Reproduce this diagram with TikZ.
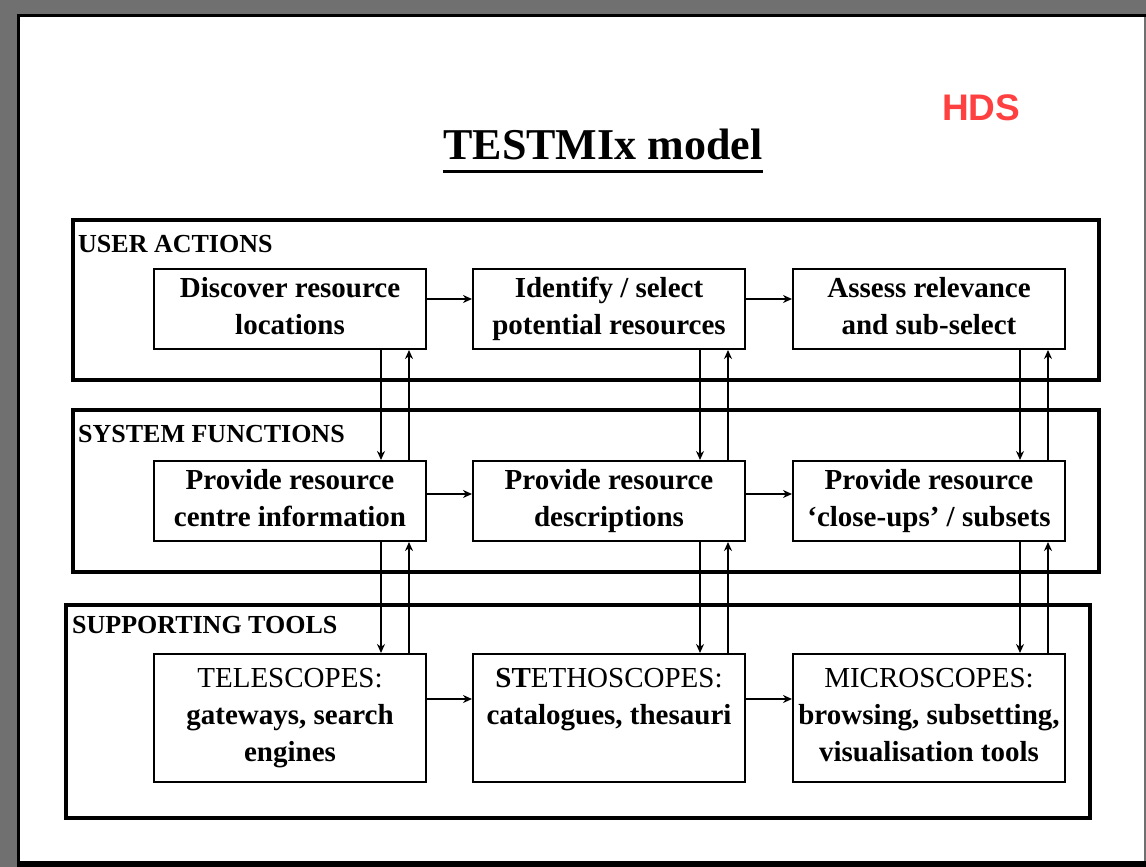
\documentclass[tikz,border=0pt]{standalone}
\usepackage{fontspec}
\setmainfont{Liberation Serif}
\newfontfamily\hdsfont{Liberation Sans}
\usepackage{tikz}
\usetikzlibrary{positioning}
\usetikzlibrary{arrows.meta}
\usepackage{xcolor}
\definecolor{framegray}{RGB}{112,112,112}
\definecolor{hdsred}{RGB}{255,64,64}

\tikzset{
  layer/.style={draw,line width=4pt,minimum width=1026pt,inner sep=0pt},
  layerlabel/.style={anchor=base west,inner sep=0pt,font=\fontsize{26}{26}\selectfont\bfseries},
  task/.style={draw,line width=2pt,minimum width=272pt,minimum height=80pt,inner sep=0pt,
    align=center,font=\fontsize{29}{37}\selectfont\bfseries,
    execute at begin node=\rule{0pt}{28pt},execute at end node=\rule[-7pt]{0pt}{7pt}},
  flow/.style={line width=2pt,-{Stealth[length=9pt,width=8pt]}}
}

\begin{document}
\begin{tikzpicture}[x=1pt,y=-1pt]
\useasboundingbox (0,0) rectangle (1146,867);

% page frame
\fill[framegray] (0,0) rectangle (1146,867);
\fill[white] (17,14) rectangle (1144,867);
\draw[line width=3pt] (18.5,867) -- (18.5,15.5) -- (1146,15.5);
\draw[line width=6pt] (17,864) -- (1146,864);

% heading
\node[anchor=base,inner sep=0pt,font=\fontsize{44}{44}\selectfont\bfseries] (title) at (603,159) {TESTMIx model};
\draw[line width=3pt] ([yshift=-12pt]title.base west) -- ([yshift=-12pt]title.base east);
\node[anchor=base west,inner sep=0pt,text=hdsred,font=\hdsfont\fontsize{37}{37}\selectfont\bfseries] (hds) at (942,120) {HDS};

% the three layers
\node[layer,minimum height=160pt] (user) at (586,300) {};
\node[layer,minimum height=162pt] (system) at (586,491) {};
\node[layer,minimum height=213pt,minimum width=1024pt] (support) at (578,711.5) {};
\node[layerlabel] (userlbl) at (78,252) {USER ACTIONS};
\node[layerlabel] (systemlbl) at (78,442) {SYSTEM FUNCTIONS};
\node[layerlabel] (supportlbl) at (72,633) {SUPPORTING TOOLS};

% user actions
\node[task] (discover) at (290,309) {Discover resource\\locations};
\node[task,right=45pt of discover] (identify) {Identify / select\\potential resources};
\node[task,right=46pt of identify] (assess) {Assess relevance\\and sub-select};

% system functions
\node[task,below=110pt of discover] (centre) {Provide resource\\centre information};
\node[task,below=110pt of identify] (describe) {Provide resource\\descriptions};
\node[task,below=110pt of assess] (closeup) {Provide resource\\`close-ups' / subsets};

% supporting tools
\node[task,minimum height=128pt,below=111pt of centre] (tele) {\textmd{TELESCOPES:}\\gateways, search\\engines};
\node[task,minimum height=128pt,below=111pt of describe] (stetho) {ST\textmd{ETHOSCOPES:}\\catalogues, thesauri\\\mbox{}};
\node[task,minimum height=128pt,below=111pt of closeup] (micro) {\textmd{MICROSCOPES:}\\browsing, subsetting,\\visualisation tools};

\draw[flow] ([yshift=10pt]discover.east) -- ([yshift=10pt]identify.west);
\draw[flow] ([yshift=10pt]identify.east) -- ([yshift=10pt]assess.west);
\draw[flow] ([yshift=7pt]centre.east) -- ([yshift=7pt]describe.west);
\draw[flow] ([yshift=7pt]describe.east) -- ([yshift=7pt]closeup.west);
\draw[flow] ([yshift=19pt]tele.east) -- ([yshift=19pt]stetho.west);
\draw[flow] ([yshift=19pt]stetho.east) -- ([yshift=19pt]micro.west);

\foreach \a/\b in {discover/centre,identify/describe,assess/closeup,centre/tele,describe/stetho,closeup/micro}{
  \draw[flow] ([xshift=-46pt]\a.south east) -- ([xshift=-46pt]\b.north east);
  \draw[flow] ([xshift=-18pt]\b.north east) -- ([xshift=-18pt]\a.south east);
}
\end{tikzpicture}
\end{document}
